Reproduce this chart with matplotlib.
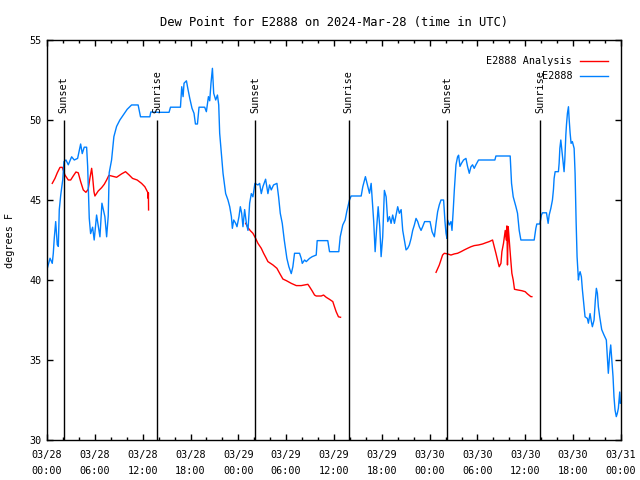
import matplotlib
matplotlib.use("Agg")
from matplotlib import pyplot as plt
from matplotlib.ticker import MultipleLocator
import numpy as np

# hours since 03/28 00:00 UTC
obs_hours = [0.04, 0.38, 0.66, 0.79, 0.91, 1.09, 1.29, 1.42, 1.54, 1.72, 1.97, 2.13, 2.38, 2.67,
             3.09, 3.42, 3.84, 4.01, 4.22, 4.42, 4.67, 4.97, 5.10, 5.30, 5.47, 5.72, 5.92, 6.22,
             6.64, 6.89, 7.26, 7.48, 7.68, 7.80, 8.10, 8.39, 8.73, 9.14, 9.55, 10.06, 10.61,
             11.43, 11.73, 12.90, 13.02, 14.06, 15.31, 15.49, 16.74, 16.90, 17.07, 17.19, 17.49,
             17.66, 17.91, 18.19, 18.44, 18.62, 18.87, 19.07, 19.78, 19.99, 20.25, 20.41, 20.57,
             20.75, 20.91, 21.16, 21.38, 21.54, 21.66, 21.88, 22.08, 22.41, 22.70, 22.92, 23.13,
             23.25, 23.42, 23.67, 23.83, 24.08, 24.25, 24.42, 24.58, 24.79, 25.01, 25.21, 25.42,
             25.63, 25.83, 26.08, 26.46, 26.67, 26.88, 27.08, 27.42, 27.71, 27.92, 28.13, 28.42,
             28.84, 29.05, 29.26, 29.51, 29.76, 29.93, 30.09, 30.34, 30.64, 30.84, 31.05, 31.68,
             31.89, 32.02, 32.31, 32.52, 32.93, 33.27, 33.77, 33.89, 35.22, 35.44, 36.60, 36.78,
             37.10, 37.40, 37.60, 37.94, 38.15, 39.41, 39.61, 39.94, 40.20, 40.45, 40.66, 40.82,
             40.98, 41.16, 41.36, 41.54, 41.74, 41.91, 42.11, 42.32, 42.54, 42.74, 42.95, 43.16,
             43.36, 43.58, 43.79, 43.99, 44.20, 44.42, 44.62, 44.83, 45.04, 45.24, 45.45, 45.67,
             45.87, 46.08, 46.29, 46.50, 46.70, 46.92, 47.12, 47.37, 48.05, 48.30, 48.59, 48.80,
             49.00, 49.21, 49.42, 49.75, 49.92, 50.05, 50.17, 50.25, 50.46, 50.67, 50.80, 50.96,
             51.09, 51.30, 51.50, 51.63, 51.80, 52.00, 52.25, 52.55, 52.75, 52.97, 53.18, 53.38,
             53.59, 53.80, 54.13, 56.18, 56.31, 58.10, 58.27, 58.48, 58.82, 59.02, 59.23, 59.44,
             61.11, 61.32, 61.44, 61.82, 62.02, 62.15, 62.65, 62.86, 62.99, 63.20, 63.40, 63.53,
             63.61, 63.74, 64.15, 64.24, 64.33, 64.45, 64.58, 64.74, 64.86, 64.95, 65.08, 65.16,
             65.28, 65.41, 65.49, 65.62, 65.74, 65.90, 66.12, 66.24, 66.37, 66.49, 66.66, 66.74,
             66.87, 67.03, 67.16, 67.37, 67.49, 67.78, 67.91, 68.12, 68.28, 68.41, 68.62, 68.78,
             68.91, 69.04, 69.16, 69.33, 69.58, 69.87, 70.16, 70.33, 70.41, 70.59, 70.71, 70.87,
             71.00, 71.12, 71.25, 71.41, 71.54, 71.67, 71.84, 71.92]
obs_dewpt = [40.73, 41.36, 41.04, 41.67, 42.6, 43.65, 42.2, 42.1, 44.4, 45.3, 46.25, 47.4, 47.5, 47.2,
             47.7, 47.5, 47.6, 48.0, 48.5, 47.9, 48.3, 48.3, 47.1, 43.86, 42.9, 43.3, 42.5, 44.06,
             42.7, 44.8, 43.96, 42.7, 44.0, 46.7, 47.5, 48.96, 49.6, 50.0, 50.3, 50.67, 50.94,
             50.94, 50.2, 50.2, 50.5, 50.48, 50.48, 50.8, 50.8, 52.08, 51.46, 52.3, 52.45,
             51.98, 51.35, 50.73, 50.42, 49.75, 49.75, 50.8, 50.8, 50.52, 51.46, 51.2, 52.3,
             53.23, 51.67, 51.25, 51.56, 50.94, 49.17, 47.9, 46.67, 45.4, 45.0, 44.58, 43.96,
             43.23, 43.75, 43.54, 43.33, 43.96, 44.58, 44.17, 43.33, 44.4, 43.54, 43.1, 44.8,
             45.4, 45.2, 46.04, 45.94, 46.04, 45.4, 45.83, 46.3, 45.4, 45.94, 45.63, 45.94,
             46.04, 45.2, 44.17, 43.54, 42.5, 41.9, 41.35, 40.83, 40.4, 40.83, 41.67, 41.67,
             41.35, 41.04, 41.25, 41.15, 41.35, 41.46, 41.56, 42.46, 42.46, 41.77, 41.77, 42.7,
             43.44, 43.75, 44.27, 45.0, 45.25, 45.25, 45.83, 46.46, 45.94, 45.42, 46.04, 44.8,
             43.65, 41.77, 43.33, 44.58, 43.33, 41.46, 42.7, 45.6, 45.2, 43.65, 43.96, 43.54,
             44.06, 43.54, 44.06, 44.58, 44.17, 44.4, 43.1, 42.5, 41.88, 41.98, 42.19, 42.6,
             43.1, 43.44, 43.85, 43.65, 43.33, 43.1, 43.33, 43.65, 43.65, 43.02, 42.7, 43.54,
             44.27, 44.7, 45.0, 45.0, 43.65, 42.92, 42.6, 43.75, 43.44, 43.65, 43.1, 44.4,
             45.6, 47.2, 47.7, 47.8, 47.1, 47.3, 47.5, 47.6, 47.1, 46.67, 47.08, 47.2,
             46.98, 47.2, 47.5, 47.5, 47.75, 47.75, 46.04, 45.2, 44.58, 44.17, 43.1, 42.5,
             42.5, 43.23, 43.5, 43.5, 44.06, 44.2, 44.2, 43.54, 44.06, 44.48, 45.0, 45.67,
             46.35, 46.77, 46.77, 47.3, 48.23, 48.75, 48.13, 47.4, 46.77, 47.5, 49.06, 49.7,
             50.42, 50.83, 50.1, 49.17, 48.54, 48.65, 48.23, 46.67, 43.65, 41.46, 40.0, 40.3,
             40.52, 40.2, 39.38, 38.33, 37.7, 37.6, 37.3, 37.9, 37.4, 37.08, 37.5, 38.75,
             39.48, 39.17, 38.33, 37.7, 36.9, 36.56, 36.25, 34.9, 34.17, 35.4, 35.94, 34.8,
             33.96, 32.7, 31.88, 31.46, 31.67, 31.98, 33.0, 32.3]

# analysis series, three separate runs
ana1_hours = [0.66, 1.00, 1.29, 1.63, 1.92, 2.25, 2.67, 2.97, 3.29, 3.63, 3.92, 4.22, 4.55, 4.88,
              5.17, 5.38, 5.60, 5.72, 5.89, 6.01, 6.42, 6.85, 7.18, 7.48, 7.76, 8.10, 8.73, 9.35,
              9.85, 10.31, 10.73, 11.31, 11.86, 12.27, 12.48, 12.69, 12.70, 12.72, 12.74]
ana1_dewpt = [46.04, 46.35, 46.7, 47.04, 47.04, 46.56, 46.25, 46.25, 46.5, 46.75, 46.7, 46.15, 45.63,
              45.48, 45.67, 46.35, 46.98, 46.46, 45.52, 45.25, 45.56, 45.77, 45.98, 46.25, 46.54,
              46.5, 46.42, 46.63, 46.77, 46.56, 46.35, 46.25, 46.04, 45.83, 45.63, 45.42, 45.1,
              45.45, 44.38]
ana2_hours = [24.92, 25.21, 25.51, 25.83, 26.17, 26.46, 26.88, 27.17, 27.51, 27.71, 28.34, 28.84,
              29.18, 29.59, 30.02, 30.64, 31.27, 31.89, 32.31, 32.72, 32.93, 33.27, 33.56, 33.77,
              34.40, 34.69, 35.02, 35.44, 35.85, 36.06, 36.27, 36.56, 36.82]
ana2_dewpt = [43.54, 43.27, 43.08, 42.92, 42.6, 42.29, 41.98, 41.67, 41.35, 41.15, 40.94, 40.73,
              40.42, 40.06, 39.96, 39.79, 39.65, 39.65, 39.69, 39.73, 39.58, 39.31, 39.06, 39.0,
              39.0, 39.06, 38.92, 38.79, 38.65, 38.33, 38.02, 37.7, 37.67]
ana3_hours = [48.80, 49.21, 49.62, 49.84, 50.25, 50.67, 51.09, 51.50, 51.93, 52.34, 52.75, 53.18,
              53.59, 54.13, 54.63, 55.06, 55.47, 55.89, 56.10, 56.31, 56.51, 56.72, 56.94, 57.06,
              57.26, 57.48, 57.60, 57.69, 57.76, 57.85, 57.98, 58.14, 58.31, 58.48, 58.64, 59.02,
              59.57, 59.98, 60.27, 60.69, 60.82]
ana3_dewpt = [40.48, 40.94, 41.56, 41.67, 41.63, 41.56, 41.63, 41.67, 41.77, 41.88, 41.98, 42.08,
              42.15, 42.19, 42.25, 42.33, 42.4, 42.5, 42.08, 41.67, 41.25, 40.83, 41.04, 41.77,
              42.29, 43.1, 42.5, 43.38, 40.94, 43.33, 42.5, 41.46, 40.42, 40.0, 39.42, 39.38,
              39.33, 39.27, 39.13, 38.96, 38.96]

sun_hours = [2.08, 13.85, 26.12, 37.82, 50.18, 61.85]
sun_labels = ["Sunset", "Sunrise", "Sunset", "Sunrise", "Sunset", "Sunrise"]

tick_hours = list(range(0, 73, 6))
tick_labels = ["03/28\n00:00", "03/28\n06:00", "03/28\n12:00", "03/28\n18:00",
               "03/29\n00:00", "03/29\n06:00", "03/29\n12:00", "03/29\n18:00",
               "03/30\n00:00", "03/30\n06:00", "03/30\n12:00", "03/30\n18:00",
               "03/31\n00:00"]

plt.rcParams['font.family'] = ['DejaVu Sans Mono']
plt.rcParams['font.size'] = 7.3

blue = '#0080ff'
red = '#ff0000'

fig = plt.figure(figsize=(6.4, 4.8), dpi=100)
ax = fig.add_axes([47/640, 40/480, 574/640, 400/480])

ax.plot(ana1_hours, ana1_dewpt, color=red, lw=1)
ax.plot(ana2_hours, ana2_dewpt, color=red, lw=1)
ax.plot(ana3_hours, ana3_dewpt, color=red, lw=1)
ax.plot(obs_hours, obs_dewpt, color=blue, lw=1)

ax.vlines(sun_hours, 30, 50, color='black', lw=1)
for t, lab in zip(sun_hours, sun_labels):
    ax.text(t, 50.45, lab, rotation=90, ha='center', va='bottom')

ax.set_xlim(0, 72)
ax.set_ylim(30, 55)
ax.set_xticks(tick_hours)
ax.set_xticklabels(tick_labels, linespacing=1.8)
ax.xaxis.set_minor_locator(MultipleLocator(2))
ax.set_yticks([30, 35, 40, 45, 50, 55])
ax.tick_params(direction='in', which='major', length=4, width=1, top=True, right=True, pad=4)
ax.tick_params(axis='x', which='major', pad=7)
ax.tick_params(direction='in', which='minor', length=2, width=1, top=True, right=False)
ax.tick_params(axis='y', which='minor', left=False, right=False)
for s in ax.spines.values():
    s.set_linewidth(1)

ax.set_ylabel("degrees F", labelpad=10)
ax.set_title("Dew Point for E2888 on 2024-Mar-28 (time in UTC)", pad=10)

# legend, gnuplot style (text right-aligned, sample line on the right)
for i, (lab, col) in enumerate([("E2888 Analysis", red), ("E2888", blue)]):
    yy = 0.9475 - i * 0.0375
    ax.text(0.915, yy, lab, transform=ax.transAxes, ha='right', va='center')
    ax.plot([0.929, 0.977], [yy, yy], transform=ax.transAxes, color=col, lw=1)

fig.savefig("out.png", dpi=100)
